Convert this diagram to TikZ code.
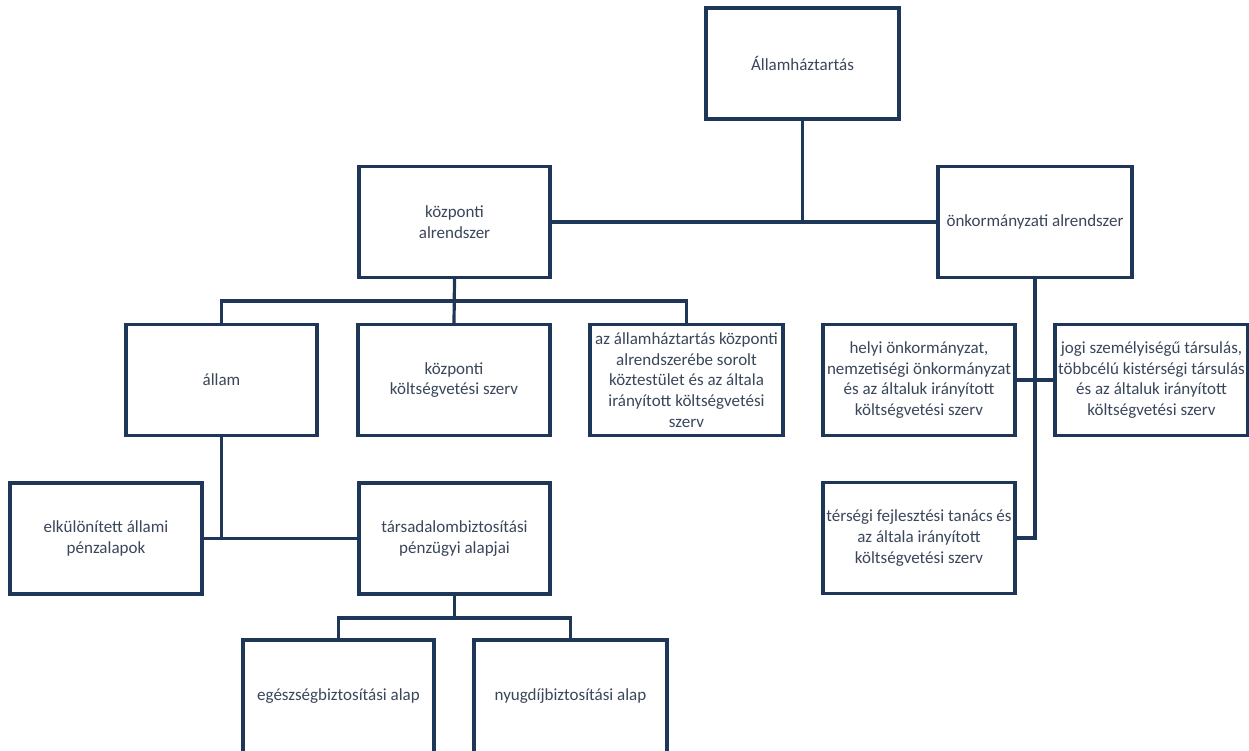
\documentclass[tikz,border=0pt]{standalone}
\usepackage{fontspec}
\setmainfont{Carlito}
\definecolor{frame}{RGB}{30,54,88}
\definecolor{label}{RGB}{58,70,90}
\begin{document}
\begin{tikzpicture}[x=1pt,y=-1pt,
  box/.style={draw=frame, line width=3.2pt, fill=white, inner sep=0pt,
    minimum width=#1, minimum height=111pt, align=center, text=label,
    font=\fontsize{17}{20.7}\selectfont},
  box/.default=192pt,
  link/.style={draw=frame, line width=3.2pt}]
\useasboundingbox (0,0) rectangle (1249,751);
\clip (0,0) rectangle (1249,751);

% top level
\node[box=193pt] (top) at (802.5,63.5) {Államháztartás};
\node[box=191pt] (kozp) at (454.5,222) {központi\\alrendszer};
\node[box=194pt] (onk) at (1035,222) {önkormányzati alrendszer};

% central subsystem
\node[box=191pt] (allam) at (221.5,380) {állam};
\node[box] (kksz) at (454,380) {központi\\költségvetési szerv};
\node[box=193pt] (kt) at (686.5,380) {az államháztartás központi\\alrendszerébe sorolt\\köztestület és az általa\\irányított költségvetési\\szerv};

% state funds
\node[box] (elk) at (106,538.5) {elkülönített állami\\pénzalapok};
\node[box=191pt] (tars) at (454.5,538.5) {társadalombiztosítási\\pénzügyi alapjai};
\node[box=191pt, minimum height=113pt] (egesz) at (338.5,696.5) {egészségbiztosítási alap};
\node[box=193pt, minimum height=113pt] (nyug) at (570.5,696.5) {nyugdíjbiztosítási alap};

% local subsystem
\node[box] (helyi) at (919,380) {helyi önkormányzat,\\nemzetiségi önkormányzat\\és az általuk irányított\\költségvetési szerv};
\node[box=193pt] (jogi) at (1151.5,380) {jogi személyiségű társulás,\\többcélú kistérségi társulás\\és az általuk irányított\\költségvetési szerv};
\node[box] (ters) at (919,538) {térségi fejlesztési tanács és\\az általa irányított\\költségvetési szerv};

% junction points
\coordinate (barA) at (454.5,301);
\coordinate (barB) at (454.5,618);

% connectors
\draw[link] (top.south) -- (top.south |- kozp.east);
\draw[link] (kozp.east) -- (onk.west);
\draw[link] (kozp.south) -- (kksz.north);
\draw[link] (allam.north) -- (allam.north |- barA) -- (kt.north |- barA) -- (kt.north);
\draw[link] (allam.south) -- (allam.south |- elk.east);
\draw[link] (elk.east) -- (tars.west);
\draw[link] (tars.south) -- (barB);
\draw[link] (egesz.north) -- (egesz.north |- barB) -- (nyug.north |- barB) -- (nyug.north);
\draw[link] (onk.south) -- (onk.south |- ters.east) -- (ters.east);
\draw[link] (helyi.east) -- (jogi.west);
\end{tikzpicture}
\end{document}
